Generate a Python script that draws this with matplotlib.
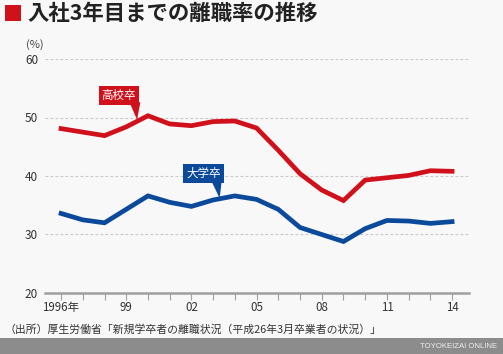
import numpy as np
import matplotlib.pyplot as plt
from matplotlib.patches import Polygon, Rectangle

plt.rcParams['font.family'] = ['Noto Sans CJK JP', 'DejaVu Sans']

# data
years = list(range(1996, 2015))
koukou = [48.1, 47.5, 46.9, 48.4, 50.3, 48.9, 48.6, 49.3, 49.4, 48.2,
          44.4, 40.4, 37.6, 35.8, 39.3, 39.7, 40.1, 40.9, 40.8]
daigaku = [33.6, 32.5, 32.0, 34.3, 36.6, 35.5, 34.8, 35.9, 36.6, 36.0,
           34.3, 31.2, 30.0, 28.8, 31.0, 32.4, 32.3, 31.9, 32.2]
xtick_pos = [1996, 1999, 2002, 2005, 2008, 2011, 2014]
xtick_lab = ['1996年', '99', '02', '05', '08', '11', '14']
yticks = [20, 30, 40, 50, 60]

red = '#d0101b'
blue = '#0b4a9b'
bg = '#f8f8f8'

W, H = 503, 354
fig = plt.figure(figsize=(W / 100, H / 100), dpi=100, facecolor=bg)
ax = fig.add_axes([45 / W, (H - 293) / H, 424 / W, 234 / H])
ax.set_facecolor(bg)

ax.plot(years, koukou, color=red, lw=3.4, solid_joinstyle='miter', zorder=3)
ax.plot(years, daigaku, color=blue, lw=3.4, solid_joinstyle='miter', zorder=3)

ax.set_xlim(1995.26, 2014.78)
ax.set_ylim(20, 60)
for v in yticks[1:]:
    ax.axhline(v, color='#c8c8c8', lw=0.8, ls=(0, (2.5, 2)), zorder=1)

for s in ['top', 'right', 'left']:
    ax.spines[s].set_visible(False)
ax.spines['bottom'].set_color('#a0a0a0')
ax.spines['bottom'].set_linewidth(1.8)

ax.set_xticks(xtick_pos)
ax.set_xticklabels(xtick_lab)
ax.set_xticks(years, minor=True)
ax.tick_params(axis='x', which='both', length=5, width=0.8, color='#a0a0a0',
               labelsize=8.3, labelcolor='#333333', pad=1)
ax.set_yticks(yticks)
ax.tick_params(axis='y', length=0, labelsize=8.5, labelcolor='#333333', pad=5)

fig.text(26 / W, 1 - 45 / H, '(%)', fontsize=8, color='#444444', va='center')

# series labels
ax.text(1998.65, 53.7, '高校卒', color='white', fontsize=8.3, ha='center', va='center',
        bbox=dict(boxstyle='square,pad=0.25', fc=red, ec='none'), zorder=5)
ax.add_patch(Polygon([[1999.15, 52.6], [1999.65, 52.6], [1999.5, 49.6]],
                     closed=True, fc=red, ec='none', zorder=4))
ax.text(2002.56, 40.4, '大学卒', color='white', fontsize=8.3, ha='center', va='center',
        bbox=dict(boxstyle='square,pad=0.25', fc=blue, ec='none'), zorder=5)
ax.add_patch(Polygon([[2002.9, 39.3], [2003.4, 39.3], [2003.3, 36.2]],
                     closed=True, fc=blue, ec='none', zorder=4))

# title
fig.patches.append(Rectangle((5 / W, 1 - 21 / H), 16 / W, 16 / H,
                             transform=fig.transFigure, fc=red, ec='none'))
fig.text(27 / W, 1 - 13 / H, '入社3年目までの離職率の推移', fontsize=15.4,
         fontweight='bold', color='#222222', va='center')

# source
fig.text(4 / W, 1 - 329 / H, '（出所）厚生労働省「新規学卒者の離職状況（平成26年3月卒業者の状況）」',
         fontsize=7.8, color='#333333', va='center')

# footer bar
fig.patches.append(Rectangle((0, 0), 1, 16 / H, transform=fig.transFigure,
                             fc='#8c8c8c', ec='none'))
fig.text(497 / W, 8 / H, 'TOYOKEIZAI ONLINE', fontsize=5.6, color='#f0f0f0',
         ha='right', va='center', family=['Liberation Sans', 'DejaVu Sans'])

fig.savefig('out.png', dpi=100, facecolor=bg)
